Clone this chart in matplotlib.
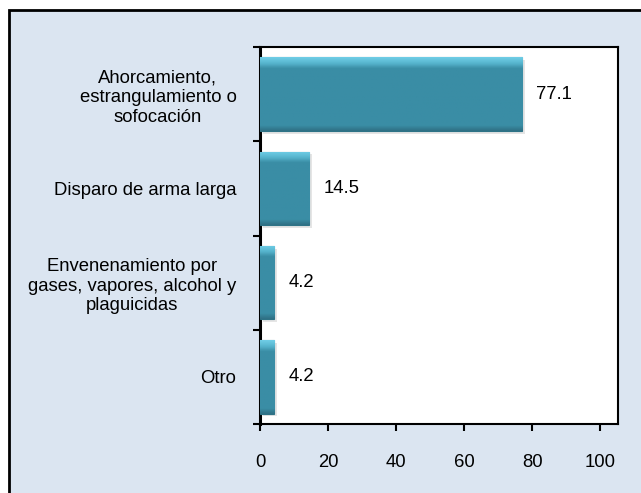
import numpy as np
import matplotlib
matplotlib.use("Agg")
import matplotlib.pyplot as plt
import matplotlib.patheffects as pe
from matplotlib.patches import Rectangle
from matplotlib.colors import LinearSegmentedColormap

categories = [
    "Ahorcamiento,\nestrangulamiento o\nsofocación",
    "Disparo de arma larga",
    "Envenenamiento por\ngases, vapores, alcohol y\nplaguicidas",
    "Otro",
]
values = [77.1, 14.5, 4.2, 4.2]
value_labels = ["77.1", "14.5", "4.2", "4.2"]
x_ticks = [0, 20, 40, 60, 80, 100]

plt.rcParams['font.family'] = ['Liberation Sans', 'DejaVu Sans']

W, H = 641, 493
fig = plt.figure(figsize=(W / 100, H / 100), dpi=100, facecolor='white')

# light-blue chart area with black border on top/left
bg = Rectangle((8.5 / W, -0.1), 1.2, (H - 10.5) / H + 0.1, transform=fig.transFigure,
               facecolor='#DBE5F1', edgecolor='black', linewidth=2, zorder=-10)
fig.patches.append(bg)

ax = fig.add_axes([260 / W, 1 - 424 / H, (618 - 260) / W, (424 - 47) / H])
ax.set_facecolor('white')

pos = np.arange(len(categories))
bars = ax.barh(pos, values, height=0.78, color='#3A8DA5', edgecolor='#2E7386',
               linewidth=0.8, zorder=3,
               path_effects=[pe.SimplePatchShadow(offset=(2, -2), shadow_rgbFace='#999999', alpha=0.25),
                             pe.Normal()])

cmap = LinearSegmentedColormap.from_list(
    'bev', [(0.0, '#2F7185'), (0.07, '#3A8DA5'), (0.85, '#3A8DA5'), (0.92, '#56B4CD'), (1.0, '#6FCDE6')])
grad = np.linspace(0, 1, 100).reshape(-1, 1)
for b in bars:
    x0, y0 = b.get_x(), b.get_y()
    w, h = b.get_width(), b.get_height()
    im = ax.imshow(grad, cmap=cmap, aspect='auto', origin='lower',
                   extent=(x0, x0 + w, y0 + h, y0), zorder=4, interpolation='bilinear')
    im.set_clip_path(b)

for p, v, lab in zip(pos, values, value_labels):
    ax.annotate(lab, xy=(v, p), xytext=(10, 0), textcoords='offset points',
                va='center', ha='left', fontsize=13.3, color='black', zorder=5)

ax.set_xlim(0, 105.2)
ax.set_ylim(len(categories) - 0.5, -0.5)

ax.set_xticks(x_ticks)
ax.set_xticklabels([str(t) for t in x_ticks], fontsize=13.3)
ax.tick_params(axis='x', direction='out', length=5, width=1.5, pad=16.5)

ax.set_yticks(np.arange(len(categories) + 1) - 0.5)
ax.set_yticklabels([])
ax.tick_params(axis='y', which='major', direction='out', length=5, width=1.5)
ax.set_yticks(pos, minor=True)
ax.set_yticklabels(categories, minor=True, fontsize=13.3, multialignment='center',
                   linespacing=1.22)
ax.tick_params(axis='y', which='minor', length=0, pad=17)

for side, sp in ax.spines.items():
    sp.set_color('black')
    sp.set_linewidth(1.5)
ax.spines['left'].set_linewidth(2.2)

fig.savefig('out.png', dpi=100, facecolor='white')
